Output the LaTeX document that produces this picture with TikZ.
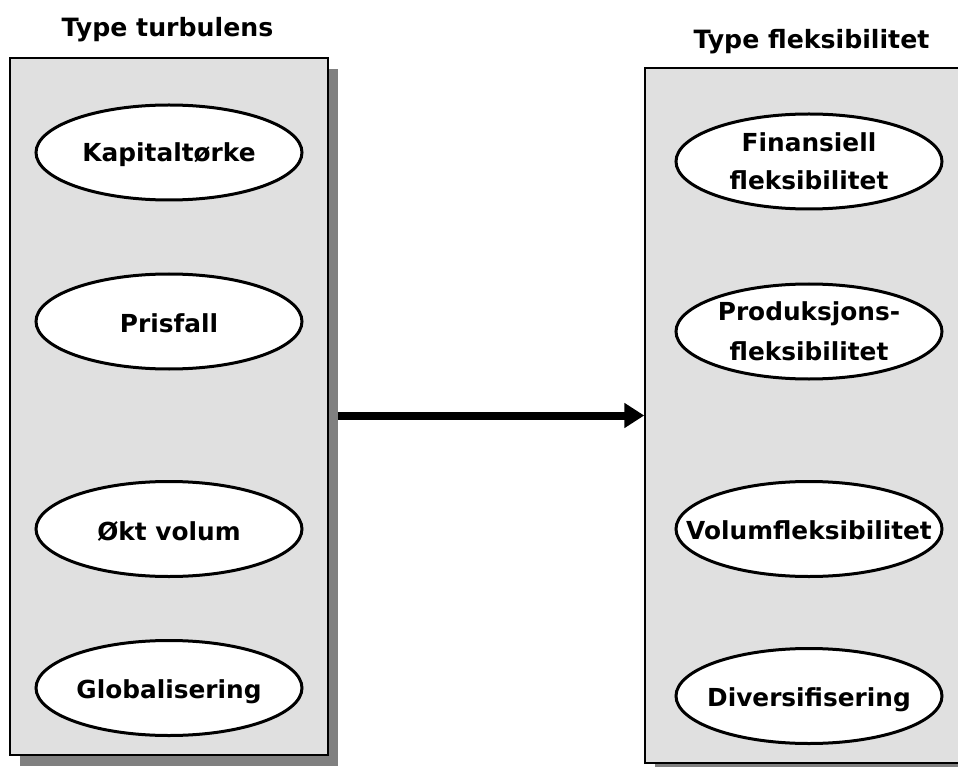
\documentclass[tikz,border=0pt]{standalone}
\usepackage{fontspec}
\setmainfont{DejaVu Sans}
\usetikzlibrary{shapes.geometric,arrows.meta}
\definecolor{boxgray}{HTML}{E0E0E0}
\definecolor{shadowgray}{HTML}{808080}
% a line of text whose baseline is raised by #1 from the node centre, taking no room
\newcommand\lineat[2]{\makebox[0pt]{\raisebox{#1}[0pt][0pt]{#2}}}
\begin{document}
\begin{tikzpicture}[x=1pt,y=-1pt,
  panel/.style={rectangle,draw=black,line width=1.5pt,fill=boxgray,inner sep=0pt},
  panelshadow/.style={rectangle,fill=shadowgray,inner sep=0pt},
  oval/.style={ellipse,draw=black,line width=3pt,fill=white,inner sep=0pt,
    minimum width=266pt,minimum height=95pt,
    font=\fontsize{24.8}{32}\selectfont\bfseries},
  title/.style={anchor=base,font=\fontsize{25.2}{30}\selectfont\bfseries},
  bigarrow/.style={line width=8pt,-{Triangle[length=20pt,width=24pt]}}]
\useasboundingbox (0,0) rectangle (958,767);
% left panel
\node[panelshadow,minimum width=318pt,minimum height=697pt] (lshadow) at (179,417.5) {};
\node[panel,minimum width=318pt,minimum height=697pt] (lbox) at (169,406.5) {};
% right panel
\node[panelshadow,minimum width=328pt,minimum height=695pt] (rshadow) at (819,426.5) {};
\node[panel,minimum width=328pt,minimum height=695pt] (rbox) at (809,415.5) {};
% titles
\node[title] (t1) at (167.5,37) {Type turbulens};
\node[title] (t2) at (811.5,49) {Type fleksibilitet};
% left ovals
\node[oval] (k) at (169,152.5) {\lineat{-9.5pt}{Kapitaltørke}};
\node[oval] (p) at (169,321.5) {\lineat{-10.5pt}{Prisfall}};
\node[oval] (o) at (169,529) {\lineat{-11pt}{Økt volum}};
\node[oval] (g) at (169,688) {\lineat{-10.5pt}{Globalisering}};
% right ovals
\node[oval] (f) at (809,161.5) {\lineat{9.5pt}{Finansiell}\lineat{-28.5pt}{fleksibilitet}};
\node[oval] (pr) at (809,331.5) {\lineat{11.5pt}{Produksjons-}\lineat{-28.5pt}{fleksibilitet}};
\node[oval] (v) at (809,529) {\lineat{-10pt}{Volumfleksibilitet}};
\node[oval] (d) at (809,696) {\lineat{-10.5pt}{Diversifisering}};
% arrow
\draw[bigarrow] (lshadow.east |- rbox.west) -- (rbox.west);
\end{tikzpicture}
\end{document}
